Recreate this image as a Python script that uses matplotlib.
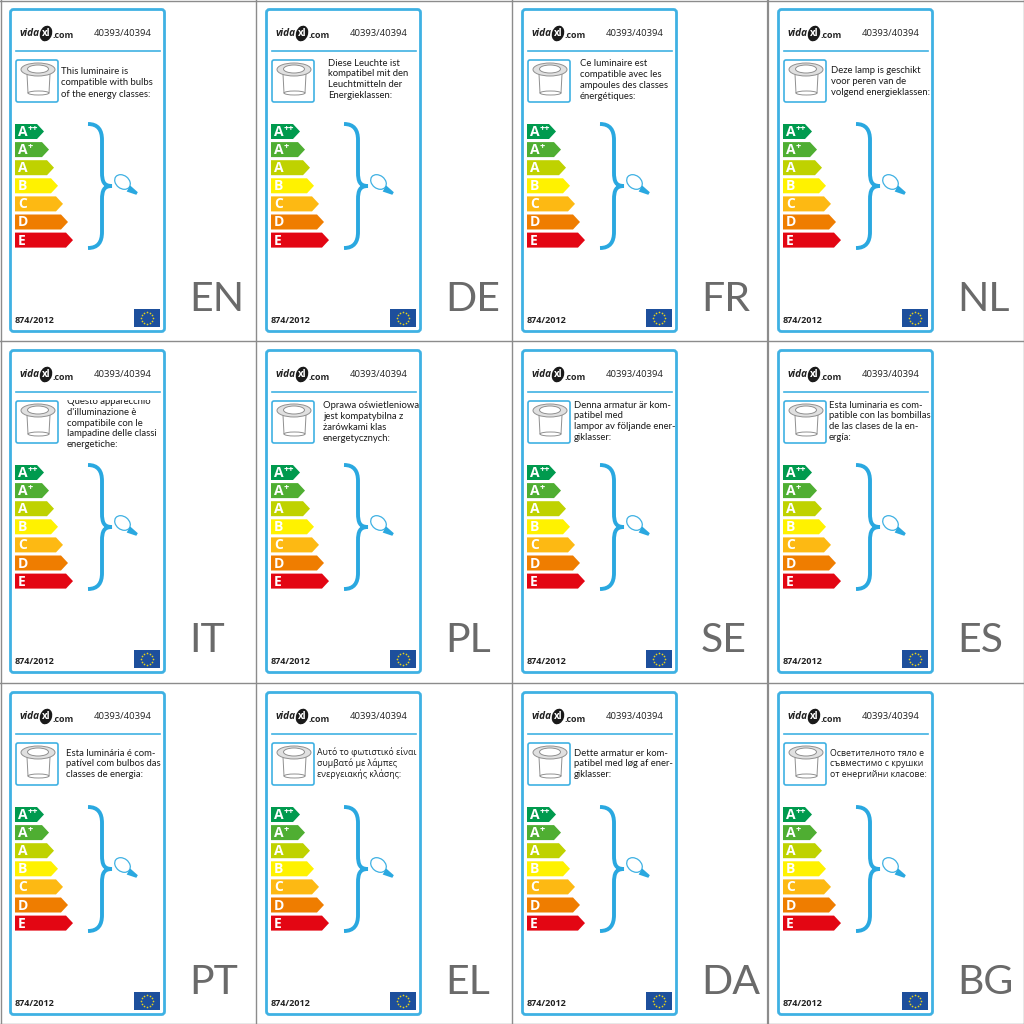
import matplotlib
matplotlib.use('Agg')
import matplotlib.pyplot as plt
from matplotlib.patches import Polygon, FancyBboxPatch, Ellipse, Rectangle, PathPatch
from matplotlib.path import Path
from matplotlib.transforms import Affine2D
import numpy as np

BLUE = '#3fb1e3'
GRAY = '#6a6a6a'
FONT = 'Open Sans'

# one entry per panel, row by row
codes = ['EN', 'DE', 'FR', 'NL', 'IT', 'PL', 'SE', 'ES', 'PT', 'EL', 'DA', 'BG']
texts = [
    ['This luminaire is', 'compatible with bulbs', 'of the energy classes:'],
    ['Diese Leuchte ist', 'kompatibel mit den', 'Leuchtmitteln der', 'Energieklassen:'],
    ['Ce luminaire est', 'compatible avec les', 'ampoules des classes', 'énergétiques:'],
    ['Deze lamp is geschikt', 'voor peren van de', 'volgend energieklassen:'],
    ['Questo apparecchio', "d'illuminazione è", 'compatibile con le', 'lampadine delle classi', 'energetiche:'],
    ['Oprawa oświetleniowa', 'jest kompatybilna z', 'żarówkami klas', 'energetycznych:'],
    ['Denna armatur är kom-', 'patibel med', 'lampor av följande ener-', 'giklasser:'],
    ['Esta luminaria es com-', 'patible con las bombillas', 'de las clases de la en-', 'ergía:'],
    ['Esta luminária é com-', 'patível com bulbos das', 'classes de energia:'],
    ['Αυτό το φωτιστικό είναι', 'συμβατό με λάμπες', 'ενεργειακής κλάσης:'],
    ['Dette armatur er kom-', 'patibel med løg af ener-', 'giklasser:'],
    ['Осветителното тяло е', 'съвместимо с крушки', 'от енергийни класове:'],
]
text_x = [61, 72, 68, 63, 67, 67, 62, 61, 66, 61, 62, 62]
text_y = [71, 63, 64, 70.7, 60.5, 65, 64, 64, 70, 69, 70, 70]
text_gap = [11.7, 10.8, 10.8, 10.7, 10.8, 10.7, 10.8, 10.7, 10.7, 10.8, 10.8, 10.8]
row_tops = [0, 341, 683]
col_lefts = [0, 256, 512, 768]

classes = ['A', 'A', 'A', 'B', 'C', 'D', 'E']
class_sup = ['++', '+', '', '', '', '', '']
class_colors = ['#009a4e', '#4fae32', '#bfd200', '#fff200', '#fdb913', '#ef7d00', '#e30613']
class_widths = [29, 34, 39, 43, 48, 53, 58]

fig = plt.figure(figsize=(10.24, 10.24), dpi=100)
ax = fig.add_axes([0, 0, 1, 1])
ax.set_xlim(0, 1024)
ax.set_ylim(1024, 0)
ax.axis('off')


def draw_lamp(x, y):
    c = '#909090'
    ax.add_patch(FancyBboxPatch((x + 16, y + 60), 42, 42, boxstyle='round,pad=0,rounding_size=2',
                                fc='white', ec=BLUE, lw=1.2))
    ax.add_patch(Polygon([(x + 27, y + 74), (x + 50, y + 74), (x + 49, y + 93), (x + 28, y + 93)],
                         fc='white', ec=c, lw=0.7))
    ax.add_patch(Ellipse((x + 38.5, y + 93), 21, 4, fc='white', ec=c, lw=0.7))
    ax.add_patch(Ellipse((x + 38, y + 69.5), 34, 13, fc='#e0e0e0', ec=c, lw=0.7))
    ax.add_patch(Ellipse((x + 38, y + 69), 21, 8, fc='white', ec=c, lw=0.7))


def draw_logo(x, y):
    ax.text(x + 19, y + 33.5, 'vida', fontsize=7.2, fontweight='bold', style='italic', family=FONT,
            va='center', color='#222222')
    ax.add_patch(Ellipse((x + 46, y + 33.5), 12, 16, angle=20, fc='#1a1a1a', ec='none'))
    ax.text(x + 46, y + 33.5, 'xl', fontsize=7, fontweight='bold', family=FONT, ha='center',
            va='center', color='white')
    ax.text(x + 52.5, y + 36, '.com', fontsize=6.4, fontweight='bold', family=FONT, va='center',
            color='#222222')


def draw_arrow(x, y, w, color, letter, sup):
    top, h = y, 15
    ax.add_patch(Polygon([(x, top), (x + w - 7, top), (x + w, top + h / 2), (x + w - 7, top + h), (x, top + h)],
                         fc=color, ec='none'))
    ax.text(x + 3, top + h / 2 + 0.5, letter, fontsize=10, fontweight='bold', family=FONT,
            color='white', va='center')
    if sup:
        ax.text(x + 13, top + 4.5, sup, fontsize=6.5, fontweight='bold', family=FONT,
                color='white', va='center')


def draw_brace(x, y):
    verts = [(x + 88, y + 124), (x + 98, y + 124), (x + 102, y + 130), (x + 102, y + 140),
             (x + 102, y + 172),
             (x + 102, y + 182), (x + 104, y + 186), (x + 112, y + 186),
             (x + 104, y + 186), (x + 102, y + 190), (x + 102, y + 200),
             (x + 102, y + 232),
             (x + 102, y + 242), (x + 98, y + 248), (x + 88, y + 248)]
    kinds = [Path.MOVETO, Path.CURVE4, Path.CURVE4, Path.CURVE4, Path.LINETO,
             Path.CURVE4, Path.CURVE4, Path.CURVE4, Path.CURVE4, Path.CURVE4, Path.CURVE4,
             Path.LINETO, Path.CURVE4, Path.CURVE4, Path.CURVE4]
    ax.add_patch(PathPatch(Path(verts, kinds), fc='none', ec='#2aa8e0', lw=2.8, capstyle='butt'))


def draw_bulb(x, y):
    ax.add_patch(Ellipse((x + 122.5, y + 182), 17, 13, angle=38, fc='white', ec=BLUE, lw=0.9))
    pts = np.array([[-3, -3.5], [7, -1.5], [7, 1.5], [-3, 3.5]])
    rot = Affine2D().rotate_deg(30).translate(x + 131, y + 190)
    ax.add_patch(Polygon(rot.transform(pts), fc='#2aa8e0', ec='none'))


def draw_flag(x, y):
    ax.add_patch(Rectangle((x + 134, y + 309), 26, 18, fc='#1d4f9c', ec='none'))
    ang = np.arange(12) * np.pi / 6
    ax.scatter(x + 147 + 6.3 * np.cos(ang), y + 318 + 6.3 * np.sin(ang), s=1.5, color='#e6d21c', lw=0)


for i, code in enumerate(codes):
    x = col_lefts[i % 4]
    y = row_tops[i // 4]
    ax.add_patch(FancyBboxPatch((x + 10.5, y + 9.5), 154, 322, boxstyle='round,pad=0,rounding_size=3',
                                fc='white', ec=BLUE, lw=2))
    draw_logo(x, y)
    ax.text(x + 122.5, y + 33.5, '40393/40394', fontsize=6.8, family=FONT, ha='center', va='center', color='#222222')
    ax.plot([x + 16, x + 160], [y + 51, y + 51], color=BLUE, lw=1.2)
    draw_lamp(x, y)
    # Lato is closest to the label face but has no Greek or Cyrillic here
    body_font, body_size = ('Open Sans', 6.3) if code in ('EL', 'BG') else ('Lato', 6.8)
    for j, line in enumerate(texts[i]):
        t = ax.text(x + text_x[i], y + text_y[i] + j * text_gap[i], line, fontsize=body_size, family=body_font,
                    va='center', color='#1a1a1a')
        if code == 'IT' and j == 0:
            # first line is cut by the top of its text box in the reference
            t.set_clip_path(Rectangle((x + 60, y + 59), 100, 12, transform=ax.transData))
            t.set_clip_on(True)
    for j, w in enumerate(class_widths):
        draw_arrow(x + 15, y + 124 + j * 18.1, w, class_colors[j], classes[j], class_sup[j])
    draw_brace(x, y)
    draw_bulb(x, y)
    ax.text(x + 15, y + 320.5, '874/2012', fontsize=6.5, fontweight='bold', family=FONT, va='center', color='#222222')
    draw_flag(x, y)
    ax.text(x + 189, y + 299.5, code, fontsize=29.5, family='Lato', ha='left', va='center', color=GRAY)

# cell borders
for gx, lw in [(0.5, 1), (256, 1), (512, 1), (768, 1.6), (1023.5, 1)]:
    ax.plot([gx, gx], [0, 1024], color='#8c8c8c', lw=lw)
for gy in [0.5, 341, 683, 1023.5]:
    ax.plot([0, 1024], [gy, gy], color='#8c8c8c', lw=1)

fig.savefig('out.png', dpi=100)
